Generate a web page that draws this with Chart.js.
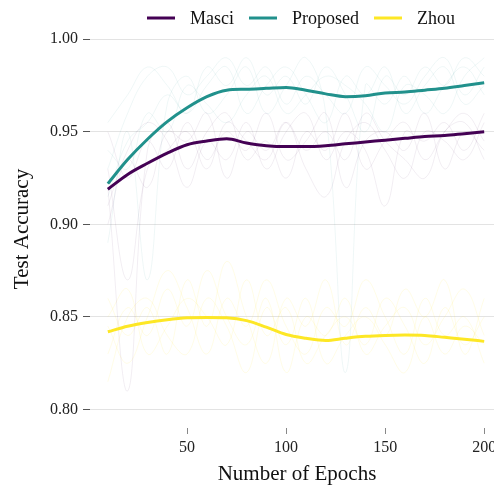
<!DOCTYPE html>
<html>
<head>
<meta charset="utf-8">
<script src="https://cdn.jsdelivr.net/npm/chart.js@4/dist/chart.umd.min.js"></script>
<style>
  html, body { margin: 0; padding: 0; background: #fff; overflow: hidden; }
  #wrap { width: 506px; height: 485px; }
</style>
</head>
<body>
<div id="wrap"><canvas id="c" width="506" height="485"></canvas></div>
<script>
// Evaluation epochs
const epochs = [10, 20, 30, 40, 50, 60, 70, 80, 90, 100, 110, 120, 130, 140, 150, 160, 170, 180, 190, 200];

// Smoothed mean test accuracy per method
const masciMean = [0.919, 0.927, 0.933, 0.9385, 0.943, 0.945, 0.9462, 0.944, 0.9425, 0.942, 0.942, 0.9425, 0.9435, 0.9445, 0.9455, 0.9465, 0.9475, 0.948, 0.949, 0.950];
const proposedMean = [0.922, 0.935, 0.946, 0.9555, 0.963, 0.969, 0.9725, 0.973, 0.9735, 0.974, 0.9725, 0.9705, 0.969, 0.9695, 0.971, 0.9715, 0.9725, 0.9735, 0.975, 0.9765];
const zhouMean = [0.842, 0.845, 0.847, 0.8485, 0.8495, 0.8497, 0.8495, 0.848, 0.8445, 0.8405, 0.8385, 0.8373, 0.8385, 0.8395, 0.840, 0.8402, 0.840, 0.839, 0.838, 0.8368];

// Individual training runs
const masciRuns = [
  [0.920, 0.810, 0.940, 0.955, 0.930, 0.950, 0.960, 0.935, 0.945, 0.925, 0.950, 0.940, 0.960, 0.930, 0.945, 0.955, 0.935, 0.950, 0.960, 0.945],
  [0.900, 0.935, 0.920, 0.950, 0.945, 0.960, 0.925, 0.950, 0.940, 0.955, 0.930, 0.915, 0.945, 0.955, 0.940, 0.925, 0.950, 0.945, 0.935, 0.955],
  [0.950, 0.925, 0.945, 0.930, 0.955, 0.935, 0.950, 0.940, 0.960, 0.935, 0.945, 0.960, 0.920, 0.945, 0.950, 0.940, 0.960, 0.930, 0.950, 0.940],
  [0.910, 0.940, 0.955, 0.945, 0.920, 0.945, 0.935, 0.955, 0.930, 0.950, 0.960, 0.935, 0.950, 0.940, 0.910, 0.950, 0.945, 0.955, 0.940, 0.960],
  [0.930, 0.870, 0.930, 0.940, 0.950, 0.930, 0.955, 0.945, 0.935, 0.955, 0.940, 0.950, 0.935, 0.960, 0.945, 0.935, 0.925, 0.950, 0.955, 0.935]
];
const proposedRuns = [
  [0.955, 0.970, 0.985, 0.975, 0.960, 0.985, 0.975, 0.990, 0.970, 0.980, 0.965, 0.985, 0.970, 0.950, 0.980, 0.970, 0.985, 0.975, 0.990, 0.980],
  [0.930, 0.960, 0.980, 0.985, 0.970, 0.980, 0.990, 0.975, 0.985, 0.965, 0.980, 0.970, 0.960, 0.985, 0.975, 0.965, 0.980, 0.990, 0.970, 0.985],
  [0.890, 0.950, 0.870, 0.965, 0.980, 0.960, 0.970, 0.985, 0.960, 0.975, 0.990, 0.960, 0.820, 0.975, 0.965, 0.980, 0.960, 0.975, 0.985, 0.970],
  [0.940, 0.930, 0.960, 0.950, 0.975, 0.965, 0.955, 0.970, 0.980, 0.960, 0.970, 0.980, 0.975, 0.965, 0.950, 0.975, 0.970, 0.960, 0.980, 0.990],
  [0.915, 0.945, 0.955, 0.970, 0.960, 0.975, 0.985, 0.960, 0.975, 0.985, 0.970, 0.955, 0.980, 0.970, 0.985, 0.960, 0.975, 0.985, 0.965, 0.975]
];
const zhouRuns = [
  [0.860, 0.840, 0.855, 0.830, 0.870, 0.845, 0.880, 0.850, 0.825, 0.860, 0.845, 0.870, 0.835, 0.855, 0.840, 0.865, 0.850, 0.870, 0.830, 0.860],
  [0.830, 0.855, 0.840, 0.865, 0.845, 0.875, 0.850, 0.835, 0.860, 0.820, 0.850, 0.840, 0.860, 0.830, 0.845, 0.855, 0.835, 0.850, 0.865, 0.840],
  [0.845, 0.825, 0.850, 0.875, 0.855, 0.830, 0.860, 0.845, 0.870, 0.845, 0.830, 0.855, 0.845, 0.870, 0.850, 0.830, 0.860, 0.840, 0.850, 0.825],
  [0.850, 0.865, 0.830, 0.845, 0.860, 0.850, 0.835, 0.870, 0.840, 0.855, 0.825, 0.840, 0.850, 0.835, 0.860, 0.845, 0.825, 0.855, 0.835, 0.850],
  [0.815, 0.850, 0.860, 0.840, 0.830, 0.860, 0.845, 0.820, 0.855, 0.835, 0.860, 0.825, 0.840, 0.850, 0.835, 0.820, 0.850, 0.830, 0.845, 0.835]
];

const xTicks = [50, 100, 150, 200];
const yTicks = [0.80, 0.85, 0.90, 0.95, 1.00];

const methods = [
  { name: 'Masci', color: '#440154', faint: 'rgba(68, 1, 84, 0.07)', mean: masciMean, runs: masciRuns },
  { name: 'Proposed', color: '#21918c', faint: 'rgba(33, 145, 140, 0.07)', mean: proposedMean, runs: proposedRuns },
  { name: 'Zhou', color: '#fde725', faint: 'rgba(253, 231, 37, 0.11)', mean: zhouMean, runs: zhouRuns }
];

const pts = arr => arr.map((v, i) => ({ x: epochs[i], y: v }));

const datasets = [];
methods.forEach(m => {
  datasets.push({
    label: m.name, data: pts(m.mean), borderColor: m.color, backgroundColor: m.color,
    borderWidth: 3, pointRadius: 0, cubicInterpolationMode: 'monotone', order: 0, main: true
  });
});
methods.forEach(m => {
  m.runs.forEach((r, k) => {
    datasets.push({
      label: m.name + ' run ' + (k + 1), data: pts(r), borderColor: m.faint,
      borderWidth: 1, pointRadius: 0, tension: 0.4, order: 1, main: false
    });
  });
});

const serif = "'Liberation Serif', 'DejaVu Serif', serif";
Chart.defaults.font.family = serif;
Chart.defaults.color = '#222';

// One-row legend above the plot: a short line swatch, then the method name
const legendRow = {
  id: 'legendRow',
  afterDraw(chart) {
    const ctx = chart.ctx;
    const area = chart.chartArea;
    const swatch = 28, gapText = 15, gapItem = 15, y = 18;
    const mains = chart.data.datasets.filter(d => d.main);
    ctx.save();
    ctx.font = '18px ' + serif;
    const widths = mains.map(d => ctx.measureText(d.label).width);
    const total = widths.reduce((s, w) => s + swatch + gapText + w, 0) + gapItem * (mains.length - 1);
    let x = (area.left + area.right) / 2 - total / 2 + 4;
    mains.forEach((d, i) => {
      ctx.strokeStyle = d.borderColor;
      ctx.lineWidth = 3;
      ctx.beginPath();
      ctx.moveTo(x, y);
      ctx.lineTo(x + swatch, y);
      ctx.stroke();
      x += swatch + gapText;
      ctx.fillStyle = '#111';
      ctx.textBaseline = 'middle';
      ctx.textAlign = 'left';
      ctx.fillText(d.label, x, y + 1);
      x += widths[i] + gapItem;
    });
    ctx.restore();
  }
};

new Chart(document.getElementById('c'), {
  type: 'line',
  data: { datasets },
  plugins: [legendRow],
  options: {
    responsive: false,
    animation: false,
    layout: { padding: { left: 0, right: 2, top: 30, bottom: 0 } },
    plugins: {
      tooltip: { enabled: false },
      legend: { display: false }
    },
    scales: {
      x: {
        type: 'linear',
        min: 1,
        max: 210,
        afterBuildTicks: s => { s.ticks = xTicks.map(v => ({ value: v })); },
        afterFit: s => { s.height = 57; },
        border: { display: false },
        grid: { drawOnChartArea: false, drawTicks: true, tickLength: 6, tickColor: '#888', tickWidth: 1 },
        ticks: { font: { size: 16 }, color: '#222', padding: 4, maxRotation: 0 },
        title: { display: true, text: 'Number of Epochs', font: { size: 21, lineHeight: 1.0 }, color: '#111', padding: { top: 1, bottom: 0 } }
      },
      y: {
        min: 0.79,
        max: 1.005,
        afterBuildTicks: s => { s.ticks = yTicks.map(v => ({ value: v })); },
        afterFit: s => { s.width = 90; },
        border: { display: false },
        grid: { color: '#e3e3e3', lineWidth: 1, drawTicks: true, tickLength: 7, tickColor: '#555' },
        ticks: { font: { size: 16 }, color: '#222', padding: 5, callback: v => v.toFixed(2) },
        title: { display: true, text: 'Test Accuracy', font: { size: 21, lineHeight: 1.0 }, color: '#111', padding: { top: 12, bottom: 4 } }
      }
    }
  }
});
</script>
</body>
</html>
